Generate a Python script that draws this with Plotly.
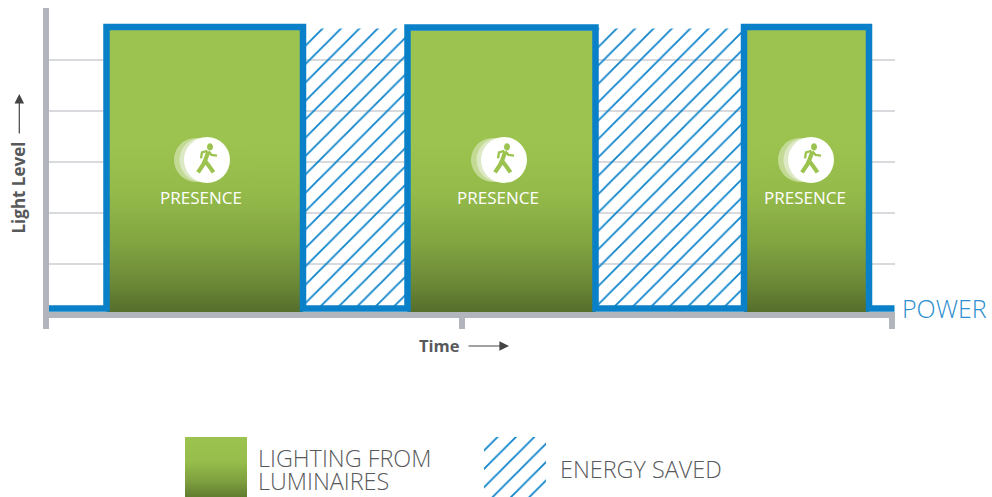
import plotly.graph_objects as go

W, H = 992, 497
# --- data (time units are arbitrary, light level 0-120)
power_time = [0, 60.5, 257, 361.5, 549.5, 698, 823, 848.5]
power_level = [2.7, 112.9, 2.7, 112.7, 2.7, 112.9, 2.7, 2.7]
green_spans = [(60.5, 257), (361.5, 549.5), (698, 823)]
hatch_spans = [(257, 361.5), (549.5, 698)]
light_top = [111.7, 111.5, 111.7]
hatch_top = 112.3
hatch_bottom = 2.7
grid_levels = [20, 40, 60, 80, 100, 120]
time_ticks = [0, 416, 846]
presence_time = [155, 452, 759]
presence_label = ["PRESENCE", "PRESENCE", "PRESENCE"]
presence_level = 60.9
presence_label_level = 46

BLUE = "#0a80c8"
GRAY = "#b3b5bc"
GRID = "#d9dadd"
GREEN_TOP = "#9cc34f"
GREEN_BOT = "#556e2b"
TXT = "#58595b"
HATCH = dict(shape="/", size=13, solidity=0.14, fgcolor="#0f84cb", fgopacity=1, bgcolor="rgba(0,0,0,0)")

GRAD = dict(type="vertical",
            colorscale=[[0, GREEN_BOT], [0.1, "#6b8837"], [0.25, "#82a541"], [0.42, "#94ba4a"], [0.6, GREEN_TOP],
                        [1, GREEN_TOP]])

fig = go.Figure()

# hatched "energy saved"
for a, b in hatch_spans:
    fig.add_trace(go.Scatter(x=[a, b, b, a], y=[hatch_top, hatch_top, hatch_bottom, hatch_bottom],
                             mode="lines", line=dict(width=0), fill="toself",
                             fillcolor="rgba(0,0,0,0)", fillpattern=HATCH,
                             hoverinfo="skip", showlegend=False))
# green light areas
for (a, b), t in zip(green_spans, light_top):
    fig.add_trace(go.Scatter(x=[a, b], y=[t, t], mode="lines", line=dict(width=0), fill="tozeroy",
                             fillgradient=dict(GRAD, start=1.4, stop=t),
                             hoverinfo="skip", showlegend=False))
# power line
fig.add_trace(go.Scatter(x=power_time, y=power_level, mode="lines", line=dict(color=BLUE, width=6.5, shape="hv"),
                         cliponaxis=False, hoverinfo="skip", showlegend=False))

# presence circles
for dx, col, size in [(-11, "#c3da94", 44), (-5.5, "#dde9c4", 44), (0, "#ffffff", 46)]:
    fig.add_trace(go.Scatter(x=[t + 6 + dx for t in presence_time], y=[presence_level] * 3, mode="markers",
                             marker=dict(size=size, color=col, line=dict(width=0)),
                             hoverinfo="skip", showlegend=False))

# tick carrier axis
fig.add_trace(go.Scatter(x=time_ticks, y=[2, 2, 2], xaxis="x3", yaxis="y3", mode="lines", line=dict(width=0),
                         hoverinfo="skip", showlegend=False))


def walker():
    return "M 6 13 C 6 15 4.6 16.6 3 16.6 C 1.4 16.6 0 15 0 13 C 0 11 1.4 9.5 3 9.5 C 4.6 9.5 6 11 6 13 Z"


limbs = [
    ("M 1.3 8 L -2 -1 L 1.2 -5 L 6.5 -12.5", 4.2),
    ("M -2 -1 L -4 -5 L -9 -12.5", 4.2),
    ("M 1.3 8.5 L 4.5 5 L 10 4.3", 2.4),
    ("M 0.5 9 L -5 7.5 L -6 1.5", 2.4),
]
for t in presence_time:
    fig.add_shape(type="path", xsizemode="pixel", ysizemode="pixel", xanchor=t + 6, yanchor=presence_level,
                  path=walker(), fillcolor=GREEN_TOP, line=dict(width=0), layer="above")
    for p, w in limbs:
        fig.add_shape(type="path", xsizemode="pixel", ysizemode="pixel", xanchor=t + 6, yanchor=presence_level,
                      path=p, line=dict(color=GREEN_TOP, width=w), layer="above")

for t, s in zip(presence_time, presence_label):
    fig.add_annotation(x=t, y=presence_label_level, text=s, showarrow=False,
                       font=dict(family="Open Sans", size=17, color="white"))


def note(txt, x, y, xanchor="center", **font):
    fig.add_annotation(xref="paper", yref="paper", x=x / W, y=1 - y / H, text=txt, showarrow=False,
                       xanchor=xanchor, yanchor="middle", font=dict(family="Open Sans", **font))


def arrow(x, y, ax, ay):
    fig.add_annotation(xref="paper", yref="paper", axref="pixel", ayref="pixel", x=x / W, y=1 - y / H, ax=ax, ay=ay,
                       text="", showarrow=True, arrowhead=2, arrowsize=1.6, arrowwidth=1.2, arrowcolor="#444444")


note("<b>Time</b>", 439.5, 345, size=16.5, color=TXT)
fig.add_annotation(xref="paper", yref="paper", x=18 / W, y=1 - 187.5 / H, text="<b>Light Level</b>", textangle=-90,
                   showarrow=False, xanchor="center", yanchor="middle",
                   font=dict(family="Open Sans", size=17, color=TXT))
arrow(509, 346, -42, 0)
arrow(19.3, 94, 0, 41)
note("POWER", 900, 308, "left", size=25, color="#2c8fcf", weight=300)

# legend swatches (own small axes)
fig.add_trace(go.Scatter(x=[0, 62], y=[1, 1], xaxis="x2", yaxis="y2", mode="lines", line=dict(width=0), fill="tozeroy",
                         fillgradient=dict(type="vertical", start=0, stop=1,
                                           colorscale=[[0, "#617c2f"], [0.25, "#7d9e3e"], [0.6, "#97be4c"], [1, GREEN_TOP]]),
                         hoverinfo="skip", showlegend=False))
fig.add_trace(go.Scatter(x=[299, 361], y=[1, 1], xaxis="x2", yaxis="y2", mode="lines", line=dict(width=0), fill="tozeroy",
                         fillcolor="rgba(0,0,0,0)", fillpattern=HATCH,
                         hoverinfo="skip", showlegend=False))
for txt, x, y in [("LIGHTING FROM", 256, 458), ("LUMINAIRES", 256, 481), ("ENERGY SAVED", 558, 469)]:
    note(txt, x, y, "left", size=23.4, color=TXT, weight=300)

fig.update_layout(
    width=W, height=H, margin=dict(l=0, r=0, t=0, b=0, autoexpand=False),
    paper_bgcolor="white", plot_bgcolor="rgba(0,0,0,0)", showlegend=False,
    xaxis=dict(domain=[49 / W, 895 / W], range=[3, 849], showgrid=False, zeroline=False, showticklabels=False,
               ticks="", showline=True, linewidth=6, linecolor=GRAY, layer="below traces"),
    xaxis3=dict(domain=[46 / W, 892 / W], range=[0, 846], anchor="y3", showgrid=False, zeroline=False,
                showline=False, showticklabels=False, tickmode="array", tickvals=time_ticks, ticks="outside",
                ticklen=16, tickwidth=6, tickcolor=GRAY),
    yaxis=dict(domain=[1 - 312 / H, 1 - 8 / H], range=[1.37, 120.35], showgrid=True, gridcolor=GRID, gridwidth=1.5,
               zeroline=False, showticklabels=False, tickmode="array", tickvals=grid_levels, ticks="",
               showline=True, linewidth=6, linecolor=GRAY, layer="below traces"),
    yaxis3=dict(domain=[1 - 312 / H, 1 - 8 / H], range=[1.37, 120.35], visible=False, anchor="x3"),
    xaxis2=dict(domain=[185 / W, 546 / W], range=[0, 361], visible=False, anchor="y2"),
    yaxis2=dict(domain=[0, 60 / H], range=[0, 1], visible=False, anchor="x2"),
)
fig.write_html("out.html", config=dict(displayModeBar=False), post_script="document.body.style.margin='0';")
